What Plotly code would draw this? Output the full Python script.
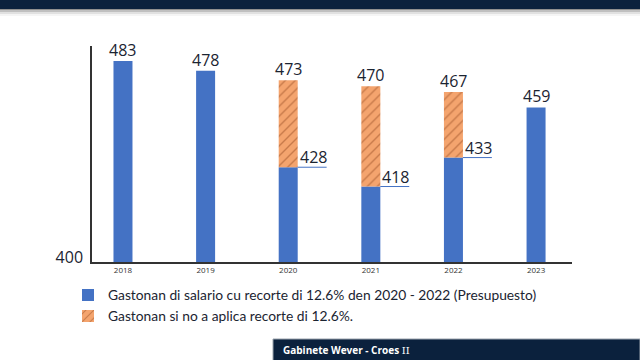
import plotly.graph_objects as go

years = [2018, 2019, 2020, 2021, 2022, 2023]
spent_with_cut = [483, 478, 428, 418, 433, 459]
spent_without_cut = [None, None, 473, 470, 467, None]
legend_blue = "Gastonan di salario cu recorte di 12.6% den 2020 - 2022 (Presupuesto)"
legend_orange = "Gastonan si no a aplica recorte di 12.6%."
footer = "Gabinete Wever - Croes"

BLUE = "#4472c4"
ORANGE = "#f4a46e"
HATCH = "#9a4f25"
NAVY = "#0b213d"
TXT = "#1b2431"
FONT = "Open Sans"
W = 0.23

extra = [(t - b) if t is not None else None for t, b in zip(spent_without_cut, spent_with_cut)]

fig = go.Figure()
fig.add_trace(go.Bar(x=years, y=spent_with_cut, width=W, marker=dict(color=BLUE, line=dict(width=0)),
                     name=legend_blue))
fig.add_trace(go.Bar(x=years, y=extra, base=spent_with_cut, width=W,
                     marker=dict(color=ORANGE, line=dict(width=0),
                                 pattern=dict(shape="/", fgcolor=HATCH, bgcolor=ORANGE, size=7, solidity=0.2)),
                     name=legend_orange))

for yr, b, t in zip(years, spent_with_cut, spent_without_cut):
    top = t if t is not None else b
    fig.add_annotation(x=yr, y=top, text=str(top), showarrow=False, xref="x", yref="y",
                       yanchor="bottom", xanchor="center", yshift=-2,
                       font=dict(family=FONT, size=16, color=TXT))
    if t is not None:
        fig.add_annotation(x=yr + W / 2, y=b, text=str(b), showarrow=False, xref="x", yref="y",
                           yanchor="bottom", xanchor="left", yshift=-3, xshift=0,
                           font=dict(family=FONT, size=16, color=TXT))
        fig.add_shape(type="line", x0=yr + W / 2, x1=yr + W / 2 + 0.35, y0=b, y1=b,
                      xref="x", yref="y", line=dict(color=BLUE, width=1))

# header bar with shadow
for i, op in enumerate([0.25, 0.15, 0.08, 0.04]):
    fig.add_shape(type="rect", xref="paper", yref="paper", x0=-92/480, x1=(640-92)/480,
                  y0=(262 - (10 + 2 * i)) / 216, y1=(262 - 8) / 216,
                  line=dict(width=0), fillcolor=f"rgba(0,0,0,{op})", layer="below")
fig.add_shape(type="rect", xref="paper", yref="paper", x0=-92/480, x1=(640-92)/480,
              y0=(262 - 9) / 216, y1=(262 + 10) / 216, line=dict(width=0), fillcolor=NAVY)

# footer box
fig.add_shape(type="rect", xref="paper", yref="paper", x0=(273-92)/480, x1=(640-92)/480,
              y0=(262 - 362) / 216, y1=(262 - 339) / 216, line=dict(color="#9aa3ad", width=1),
              fillcolor=NAVY)
fig.add_annotation(xref="paper", yref="paper", x=(281-92)/480, y=(262 - 350) / 216,
                   text=f"<b>{footer}</b> <span style='font-family:DejaVu Serif'>II</span>",
                   showarrow=False, xanchor="left", yanchor="middle",
                   font=dict(family=FONT, size=10, color="white"))

fig.update_layout(
    width=640, height=360,
    margin=dict(l=92, r=68, t=46, b=98),
    paper_bgcolor="white", plot_bgcolor="white",
    barmode="overlay",
    showlegend=True,
    legend=dict(x=(68 - 92) / 480, y=-0.081, xanchor="left", yanchor="top", orientation="v",
                font=dict(family="Lato", size=13.8, color=TXT), traceorder="normal",
                itemwidth=30, bgcolor="rgba(0,0,0,0)"),
    xaxis=dict(range=[2017.625, 2023.435], tickvals=years, ticktext=[str(y) for y in years],
               showgrid=False, zeroline=False, showline=True, linecolor="#333333", linewidth=1.5,
               ticks="", tickfont=dict(family=FONT, size=8, color="#333333")),
    yaxis=dict(range=[378.9, 490.8], tickvals=[378.9], ticktext=["400"], showgrid=False,
               zeroline=False, showline=True, linecolor="#333333", linewidth=1.5, ticks="",
               ticklabelshift=-5, ticklabelstandoff=4,
               tickfont=dict(family=FONT, size=16, color=TXT)),
    font=dict(family=FONT),
)

fig.write_html("out.html")
